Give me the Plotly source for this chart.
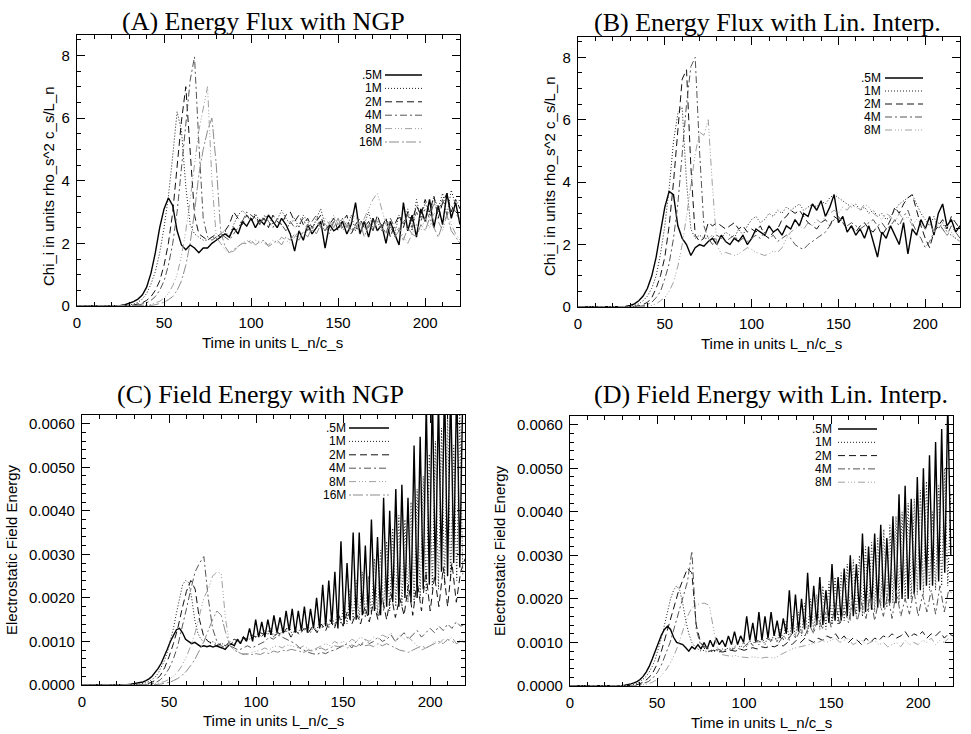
import numpy as np
import plotly.graph_objects as go

# ---------------- DATA ----------------
# Energy-flux panels: common time grid 0..220 step 2.5 (89 samples)
t_flux = np.arange(89) * 2.5
# Field-energy panels: coarse grid (same as flux) and fine grid 0..218.75 step 1.75 (126 samples)
t_coarse = np.arange(89) * 2.5
t_fine = np.arange(126) * 1.75

labels6 = [".5M", "1M", "2M", "4M", "8M", "16M"]
labels5 = [".5M", "1M", "2M", "4M", "8M"]

# (A) Energy flux, NGP
flux_ngp_05M = [0,0,0,0,0,0,0,0,0,0.01,
    0.02,0.04,0.08,0.14,0.22,0.35,0.6,1.05,1.7,2.5,
    3.1,3.45,3.2,2.4,1.95,1.8,1.95,1.85,1.7,1.85,
    1.85,2.0,2.1,2.2,2.3,2.2,2.5,2.3,2.7,2.55,
    2.8,2.5,2.75,2.6,2.9,2.7,2.5,2.8,2.6,2.3,
    1.75,2.4,2.1,2.6,2.3,2.5,2.7,1.85,2.6,2.4,
    2.5,2.7,2.3,2.6,3.3,2.3,2.7,2.2,2.8,2.4,
    2.6,2.0,2.7,2.3,1.95,3.3,2.4,2.9,2.2,3.1,
    2.7,3.4,2.5,3.2,2.6,3.6,2.8,3.3,2.6]
flux_ngp_1M = [0,0,0,0,0,0,0,0,0,0,
    0,0.01,0.03,0.06,0.12,0.22,0.4,0.7,1.1,1.7,
    2.5,3.5,4.8,6.2,5.6,3.8,2.6,2.3,2.2,2.1,
    2.1,2.2,2.15,2.3,2.4,2.2,2.6,2.9,3.05,2.9,
    2.8,2.95,2.7,2.8,2.9,2.6,2.75,3.05,2.8,2.6,
    2.8,2.5,2.9,2.7,2.4,2.8,3.1,2.6,2.5,2.7,
    2.6,2.8,2.5,2.9,2.4,2.7,2.6,3.0,2.5,2.7,
    2.4,2.8,2.5,2.3,2.9,2.6,3.1,2.4,3.4,2.8,
    3.3,2.9,3.5,3.1,3.6,2.9,3.7,3.2,3.4]
flux_ngp_2M = [0,0,0,0,0,0,0,0,0,0,
    0,0,0.01,0.03,0.06,0.1,0.18,0.3,0.5,0.8,
    1.3,2.0,3.0,4.4,5.9,7.0,5.0,2.9,2.3,2.2,
    2.1,2.2,2.3,2.2,2.4,2.6,3.0,2.8,2.6,2.9,
    2.7,2.9,2.6,2.8,2.5,2.9,2.7,2.6,2.9,3.0,
    2.7,2.9,2.6,2.8,2.5,2.7,2.9,2.4,2.6,2.8,
    2.4,2.7,2.9,2.3,2.6,2.8,2.5,2.7,2.4,2.9,
    2.5,2.8,2.2,2.6,2.9,2.5,3.0,2.7,3.2,2.9,
    3.4,3.0,3.5,2.8,3.3,3.6,3.0,3.4,3.1]
flux_ngp_4M = [0,0,0,0,0,0,0,0,0,0,
    0,0,0,0.01,0.03,0.06,0.1,0.18,0.3,0.5,
    0.8,1.3,2.0,3.0,4.3,5.8,7.2,7.95,5.2,2.8,
    2.2,2.1,2.2,2.3,2.2,2.1,2.3,2.5,2.7,3.0,
    2.9,2.8,2.6,2.9,2.7,2.5,2.8,2.6,2.4,2.7,
    2.5,2.6,2.8,2.4,2.7,2.9,2.5,2.6,2.3,2.7,
    2.8,2.5,2.7,2.4,2.6,2.3,2.7,2.5,2.8,2.4,
    2.6,2.3,2.8,2.5,2.4,2.7,2.9,2.5,3.0,2.7,
    3.1,2.8,3.3,3.0,3.4,2.9,3.2,3.0,2.7]
flux_ngp_8M = [0,0,0,0,0,0,0,0,0,0,
    0,0,0,0,0,0,0.02,0.05,0.1,0.15,
    0.25,0.4,0.65,1.0,1.6,2.4,3.4,4.6,5.6,6.3,
    7.0,4.0,2.2,2.0,1.8,1.7,1.75,1.9,2.0,2.1,
    2.0,2.1,2.05,2.0,1.95,2.1,2.0,2.2,2.1,2.0,
    2.2,2.4,2.3,2.6,2.5,2.7,2.5,2.8,2.6,2.9,
    2.6,2.8,2.5,2.7,2.9,2.5,2.8,3.1,3.4,3.6,
    3.1,2.6,2.4,2.3,2.5,2.2,2.0,2.3,2.6,2.4,
    2.8,2.5,3.0,2.7,2.4,2.9,2.6,2.3,2.1]
flux_ngp_16M = [0,0,0,0,0,0,0,0,0,0,
    0,0,0,0,0,0,0,0.02,0.04,0.08,
    0.12,0.2,0.3,0.5,0.8,1.3,2.0,3.0,4.2,5.0,
    5.6,6.0,4.5,2.4,1.9,1.7,1.8,1.9,2.0,2.0,
    2.1,1.95,2.05,2.1,1.9,2.0,2.1,1.95,2.2,2.1,
    2.3,2.1,2.4,2.2,2.5,2.3,2.6,2.4,2.7,2.5,
    2.8,2.4,2.6,2.3,2.5,2.7,2.2,2.6,2.4,2.8,
    2.5,2.3,2.6,2.2,2.4,2.1,2.5,2.3,2.2,2.6,
    2.4,2.8,2.5,2.2,2.6,2.9,2.4,2.2,2.0]

# (B) Energy flux, linear interpolation
flux_lin_05M = [0,0,0,0,0,0,0,0,0,0,
    0.01,0.02,0.05,0.1,0.2,0.35,0.6,1.0,1.6,2.4,
    3.2,3.7,3.6,2.6,2.2,2.0,1.65,1.9,2.0,1.95,
    2.1,2.2,2.0,2.3,2.1,2.0,2.2,2.1,2.3,2.0,
    2.2,2.5,2.4,2.3,2.6,2.4,2.5,2.3,2.6,2.5,
    2.8,2.6,3.0,2.9,3.3,3.1,3.4,2.9,3.2,3.6,
    2.7,2.9,2.4,2.6,2.3,2.5,2.2,2.6,2.1,1.6,
    2.4,2.2,2.6,2.3,2.0,2.7,1.7,2.5,2.3,2.8,
    2.5,2.9,2.3,3.0,3.3,2.6,2.8,2.4,2.6]
flux_lin_1M = [0,0,0,0,0,0,0,0,0,0,
    0,0.01,0.02,0.05,0.1,0.2,0.35,0.6,1.0,1.7,
    2.6,3.8,5.3,6.2,6.4,4.0,2.5,2.2,2.3,2.2,
    2.2,2.3,2.1,2.2,2.4,2.3,2.2,2.5,2.3,2.6,
    2.8,2.9,2.7,2.8,3.0,2.9,3.1,3.0,3.2,3.1,
    3.2,3.3,3.1,3.2,3.3,3.2,3.4,3.3,3.5,3.6,
    3.5,3.4,3.3,3.2,3.3,3.1,3.2,3.0,3.1,2.9,
    3.0,2.8,2.9,3.1,3.3,3.4,3.5,3.6,3.3,3.0,
    2.8,2.6,2.9,2.5,2.7,2.4,2.3,2.2,2.1]
flux_lin_2M = [0,0,0,0,0,0,0,0,0,0,
    0,0,0.01,0.02,0.04,0.08,0.15,0.3,0.6,1.0,
    1.6,2.6,4.0,5.8,7.3,7.6,4.5,2.3,2.1,2.2,
    2.7,2.6,2.7,2.6,2.5,2.6,2.7,2.5,2.6,2.4,
    2.5,2.4,2.6,2.3,2.2,2.4,2.5,2.8,2.9,3.1,
    3.0,3.1,2.9,2.7,2.6,2.5,2.7,2.8,2.6,2.9,
    2.8,2.7,2.5,2.6,2.4,2.6,2.7,2.5,2.4,2.6,
    2.3,2.5,2.8,3.2,3.0,3.3,3.5,3.6,3.1,2.6,
    2.2,1.9,2.4,2.6,2.8,2.5,2.9,2.7,2.5]
flux_lin_4M = [0,0,0,0,0,0,0,0,0,0,
    0,0,0,0.01,0.02,0.04,0.08,0.15,0.3,0.5,
    0.9,1.4,2.2,3.3,4.8,6.5,7.7,8.0,5.0,2.6,
    2.2,2.0,2.3,2.2,2.1,2.2,2.3,2.1,2.2,2.1,
    2.2,2.3,2.2,2.4,2.2,2.3,2.1,2.2,2.3,2.2,
    2.0,1.9,1.85,2.0,2.1,2.2,2.3,2.4,2.6,2.8,
    2.9,2.7,2.6,2.7,2.6,2.5,2.6,2.7,2.8,2.6,
    2.7,2.5,2.6,2.8,2.6,2.9,3.1,2.7,2.4,2.2,
    1.9,2.1,2.4,2.7,2.5,2.3,2.6,2.4,2.2]
flux_lin_8M = [0,0,0,0,0,0,0,0,0,0,
    0,0,0,0,0,0,0.02,0.05,0.1,0.2,
    0.3,0.5,0.8,1.3,2.0,2.9,3.9,4.9,5.6,5.5,
    6.0,3.8,2.0,1.7,1.75,1.7,1.65,1.7,1.8,1.9,
    1.85,1.75,1.7,1.65,1.7,1.8,1.75,1.9,2.2,2.4,
    2.5,2.6,2.5,2.7,2.6,2.8,2.7,2.9,3.0,3.1,
    3.0,3.2,3.1,3.3,3.2,3.1,3.3,3.2,3.0,2.9,
    2.8,3.0,2.9,2.7,3.0,2.8,2.9,2.6,2.8,2.7,
    2.5,2.7,2.4,2.6,2.5,2.3,2.4,2.2,2.1]

# (C) Field energy, NGP  (units of 1e-3)
field_ngp_05M_milli = [0,0,0,0,0,0,0,0,0,0,0,0,0,
    0.005,
    0.01,0.01,0.02,0.03,0.04,0.05,0.07,
    0.1,0.14,0.2,0.28,0.38,0.5,0.65,0.82,
    1.0,1.15,1.27,1.3,1.2,1.05,1.0,0.95,0.98,0.92,0.88,0.9,
    0.88,0.9,0.87,0.9,0.88,0.85,0.82,0.9,0.95,0.9,1.05,0.95,1.1,1.0,
    1.3,1.0,1.5,1.1,1.45,1.1,1.5,1.15,1.6,1.2,1.55,1.2,1.7,1.25,1.75,1.2,1.7,1.25,1.8,1.2,1.75,1.3,
    2.0,1.3,2.3,1.35,2.4,1.4,2.6,1.3,3.3,1.4,2.8,1.5,3.5,1.5,3.5,1.6,3.2,1.6,3.8,1.7,3.4,1.6,
    4.3,1.8,4.0,1.9,4.5,1.8,4.6,2.0,4.3,1.9,5.5,2.0,5.7,2.2,6.5,2.3,6.8,2.4,6.6,2.6,7.0,2.5,6.9,2.8,7.0,2.7,6.8]
field_ngp_1M_milli = [0,0,0,0,0,0,0,0,0,0,0,0,0,0,0,0,0,0,
    0.01,0.02,0.03,0.05,0.08,0.12,0.18,0.27,0.4,0.55,0.75,
    1.0,1.3,1.65,2.0,2.3,2.4,2.35,2.0,1.5,1.2,1.05,1.0,
    1.05,0.95,1.0,0.95,0.9,0.95,0.9,0.95,1.0,0.95,1.05,1.0,1.1,1.05,
    1.05,1.15,1.1,1.2,1.1,1.25,1.15,1.3,1.1,1.25,1.15,1.3,1.2,1.35,1.15,1.3,1.2,1.35,1.25,1.4,1.2,1.35,
    1.25,1.45,1.3,1.5,1.3,1.6,1.35,1.7,1.4,1.9,1.4,2.2,1.5,2.4,1.5,2.6,1.55,2.5,1.6,2.9,1.6,3.1,
    1.7,3.3,1.7,3.6,1.8,3.9,1.8,3.8,1.9,4.2,1.9,4.5,2.0,4.8,2.1,5.3,2.2,5.6,2.2,5.9,2.3,6.2,2.4,5.5,2.4,6.3,2.5]
field_ngp_2M_milli = [0,0,0,0,0,0,0,0,0,0,
    0,0,0,0,0.01,0.03,0.06,0.12,0.22,0.4,
    0.65,0.95,1.3,1.75,2.15,2.4,2.2,1.5,1.1,1.0,
    0.95,0.9,0.95,0.9,1.0,1.05,1.0,1.1,1.05,1.15,
    1.1,1.2,1.15,1.25,1.1,1.2,1.15,1.3,1.1,1.25,
    1.15,1.3,1.2,1.35,1.2,1.4,1.25,1.5,1.3,1.6,
    1.35,1.7,1.4,1.65,1.4,1.8,1.45,1.9,1.5,2.0,
    1.5,2.1,1.55,2.0,1.6,2.3,1.6,2.4,1.7,2.6,
    1.7,2.5,1.8,2.7,1.8,2.8,1.9,2.6,2.9]
field_ngp_4M_milli = [0,0,0,0,0,0,0,0,0,0,
    0,0,0,0,0,0.01,0.03,0.06,0.12,0.22,
    0.38,0.6,0.9,1.3,1.75,2.2,2.6,2.8,2.95,2.0,
    1.3,1.0,0.9,0.85,0.9,0.85,0.8,0.85,0.9,0.85,
    0.9,0.95,1.0,1.1,1.05,1.15,1.1,1.05,1.0,0.95,
    0.85,0.8,0.75,0.72,0.7,0.75,0.72,0.78,0.8,0.85,
    0.9,0.95,0.85,1.0,0.9,1.05,0.95,1.0,1.1,1.0,
    1.05,1.15,1.0,1.1,1.2,1.05,1.15,1.25,1.1,1.2,
    1.3,1.2,1.35,1.25,1.4,1.3,1.45,1.35,1.4]
field_ngp_8M_milli = [0,0,0,0,0,0,0,0,0,0,
    0,0,0,0,0,0,0.01,0.03,0.05,0.08,
    0.13,0.2,0.3,0.45,0.65,0.9,1.2,1.6,2.0,2.2,
    2.5,2.6,2.55,1.5,0.9,0.8,0.75,0.72,0.7,0.75,
    0.78,0.8,0.85,0.8,0.88,0.9,0.85,0.92,0.9,0.88,
    0.85,0.9,0.82,0.8,0.85,0.9,0.95,0.9,1.0,0.95,
    1.0,0.95,1.05,1.0,1.1,1.05,1.0,1.1,1.05,1.15,
    1.1,1.2,1.0,1.15,1.05,1.1,1.0,0.9,0.8,0.85,
    0.9,1.0,0.95,1.05,1.0,1.1,0.95,1.05,1.0]
field_ngp_16M_milli = [0,0,0,0,0,0,0,0,0,0,
    0,0,0,0,0,0,0,0.01,0.02,0.04,
    0.06,0.1,0.15,0.22,0.32,0.45,0.6,0.8,1.0,1.25,
    1.5,1.7,1.6,1.2,0.9,0.8,0.75,0.7,0.72,0.7,
    0.72,0.7,0.75,0.72,0.78,0.75,0.8,0.78,0.82,0.8,
    0.78,0.75,0.8,0.78,0.82,0.85,0.8,0.85,0.9,0.88,
    0.9,0.85,0.92,0.88,0.95,0.9,0.92,0.88,0.95,0.9,
    0.95,0.9,0.85,0.8,0.78,0.75,0.8,0.85,0.9,0.85,
    0.9,0.95,1.0,0.95,1.05,1.0,0.95,1.0,0.98]

# (D) Field energy, linear interpolation (units of 1e-3)
field_lin_05M_milli = [0,0,0,0,0,0,0,0,0,0,0,0,0,0,0,0,0,
    0.01,0.02,0.03,0.05,0.07,0.1,0.15,0.22,0.32,0.45,0.62,0.82,
    1.0,1.17,1.3,1.37,1.3,1.12,1.0,0.97,0.95,0.88,0.8,0.9,
    0.85,0.95,0.85,1.0,0.85,1.05,0.9,1.1,0.95,1.05,0.9,1.15,0.95,1.25,
    0.95,1.15,1.0,1.6,1.05,1.45,1.0,1.7,1.05,1.6,1.1,1.7,1.15,1.5,1.1,1.55,1.2,2.2,1.2,2.1,1.25,2.0,
    1.3,2.6,1.35,2.3,1.4,2.5,1.4,2.2,1.45,2.8,1.5,2.5,1.5,2.7,1.6,3.0,1.6,2.8,1.7,3.5,1.7,3.2,
    1.75,3.5,1.8,3.7,1.8,3.4,1.9,3.9,1.9,4.4,2.0,4.6,2.0,4.3,2.1,4.8,2.2,5.0,2.3,5.3,2.3,5.6,2.4,5.9,2.6,6.5,3.0]
field_lin_1M_milli = [0,0,0,0,0,0,0,0,0,0,0,0,0,0,0,0,0,0,0,
    0.01,0.02,0.04,0.06,0.1,0.15,0.22,0.32,0.45,0.62,
    0.85,1.1,1.4,1.7,2.0,2.2,2.3,2.2,1.9,1.5,1.2,1.0,
    0.9,0.85,0.8,0.82,0.78,0.8,0.78,0.82,0.8,0.85,0.82,0.88,0.85,0.9,
    0.95,0.88,1.0,0.9,1.05,0.92,1.1,0.95,1.1,0.95,1.15,1.0,1.2,1.0,1.3,1.05,1.5,1.05,1.6,1.1,1.7,1.15,
    1.9,1.2,2.0,1.25,2.1,1.3,2.3,1.3,2.4,1.4,2.5,1.4,2.6,1.5,2.8,1.5,2.9,1.6,3.0,1.6,3.2,1.7,
    3.3,1.7,3.4,1.8,3.6,1.8,3.7,1.9,3.9,1.9,4.0,2.0,4.2,2.0,4.3,2.1,4.5,2.1,4.7,2.2,4.0,2.2,4.6,2.3,5.0,2.3,4.4]
field_lin_2M_milli = [0,0,0,0,0,0,0,0,0,0,
    0,0,0,0,0.01,0.02,0.05,0.1,0.18,0.3,
    0.5,0.8,1.15,1.5,1.85,2.2,2.45,2.7,2.6,1.4,
    1.0,0.85,0.8,0.82,0.8,0.78,0.8,0.82,0.8,0.85,
    0.82,0.85,0.88,0.85,0.9,0.88,0.92,0.9,0.95,0.92,
    1.0,0.95,1.05,1.0,1.1,1.05,1.0,1.1,1.05,1.15,
    1.1,1.2,1.05,1.15,1.0,1.1,1.05,0.95,1.1,1.0,
    1.1,1.05,1.15,1.1,1.2,1.1,1.15,1.25,1.1,1.2,
    1.15,1.25,1.1,1.2,1.15,1.25,1.1,1.2,1.15]
field_lin_4M_milli = [0,0,0,0,0,0,0,0,0,0,
    0,0,0,0,0,0.01,0.03,0.06,0.1,0.18,
    0.3,0.48,0.72,1.0,1.35,1.7,2.05,2.4,3.1,1.3,
    0.95,0.9,0.85,0.8,0.85,0.8,0.85,0.82,0.88,0.85,
    0.9,1.0,0.95,1.05,1.0,1.1,1.05,1.1,1.0,1.15,
    1.05,1.2,1.1,1.3,1.15,1.4,1.2,1.6,1.3,1.8,
    1.35,1.9,1.4,1.8,1.45,2.0,1.5,1.9,1.55,2.1,
    1.5,2.0,1.6,2.1,1.55,2.2,1.6,2.0,1.65,2.2,
    1.6,2.1,1.7,2.2,1.65,2.3,1.7,2.2,2.1]
field_lin_8M_milli = [0,0,0,0,0,0,0,0,0,0,
    0,0,0,0,0,0,0.01,0.03,0.05,0.09,
    0.15,0.24,0.36,0.52,0.72,0.98,1.3,1.6,1.8,1.85,
    1.9,1.9,1.85,1.3,0.8,0.72,0.7,0.68,0.7,0.67,
    0.66,0.65,0.67,0.65,0.64,0.66,0.65,0.64,0.7,0.75,
    0.8,0.85,0.88,0.9,0.92,0.95,0.98,1.0,1.05,1.0,
    1.05,1.1,1.0,1.05,1.1,0.95,1.0,1.05,0.95,1.0,
    1.05,0.95,1.0,0.9,0.95,1.0,0.9,1.05,0.95,1.0,
    0.95,1.05,1.0,1.1,0.95,1.05,1.0,1.1,1.05]

# ---------------- STYLE ----------------
W, H = 971, 734
def px(x): return x / W
def py(y): return 1 - y / H

styles = {
    ".5M": dict(color="black", width=1.4, dash="solid"),
    "1M": dict(color="#202020", width=1, dash="1px,2px"),
    "2M": dict(color="#111111", width=1, dash="7px,4px"),
    "4M": dict(color="#555555", width=1, dash="7px,3px,2px,3px"),
    "8M": dict(color="#a0a0a0", width=1, dash="7px,3px,1px,2px,1px,2px,1px,3px"),
    "16M": dict(color="#8c8c8c", width=1, dash="2px,2px,10px,3px"),
}

panels = [
    dict(key="A", title="(A) Energy Flux with NGP", box=(77, 460, 35, 306), tcx=263, tcy=21,
         ytitle="Chi_i in units rho_s^2 c_s/L_n", ytx=48, yty=186, xtx=272, xty=342,
         yrange=[0, 8.65], dtick=2, mdtick=0.5, fmt=None,
         series=[(labels6[i], t_flux, v) for i, v in enumerate(
             [flux_ngp_05M, flux_ngp_1M, flux_ngp_2M, flux_ngp_4M, flux_ngp_8M, flux_ngp_16M])],
         leg=(383, 385, 422, 75, 13.4)),
    dict(key="B", title="(B) Energy Flux with Lin. Interp.", box=(578, 960, 37, 307), tcx=767, tcy=22,
         ytitle="Chi_i in units rho_s^2 c_s/L_n", ytx=549, yty=176, xtx=771, xty=343,
         yrange=[0, 8.65], dtick=2, mdtick=0.5, fmt=None,
         series=[(labels5[i], t_flux, v) for i, v in enumerate(
             [flux_lin_05M, flux_lin_1M, flux_lin_2M, flux_lin_4M, flux_lin_8M])],
         leg=(882, 885, 923, 78, 13.0)),
    dict(key="C", title="(C) Field Energy with NGP", box=(82, 465, 415, 685), tcx=260, tcy=394,
         ytitle="Electrostatic Field Energy", ytx=11, yty=550, xtx=273, xty=720,
         yrange=[0, 0.0062], dtick=0.001, mdtick=0.0002, fmt=".4f",
         series=[(".5M", t_fine, field_ngp_05M_milli), ("1M", t_fine, field_ngp_1M_milli),
                 ("2M", t_coarse, field_ngp_2M_milli), ("4M", t_coarse, field_ngp_4M_milli),
                 ("8M", t_coarse, field_ngp_8M_milli), ("16M", t_coarse, field_ngp_16M_milli)],
         milli=True, leg=(347, 349, 389, 428, 13.4)),
    dict(key="D", title="(D) Field Energy with Lin. Interp.", box=(570, 953, 416, 686), tcx=771, tcy=394,
         ytitle="Electrostatic Field Energy", ytx=499, yty=551, xtx=761, xty=722,
         yrange=[0, 0.0062], dtick=0.001, mdtick=0.0002, fmt=".4f",
         series=[(".5M", t_fine, field_lin_05M_milli), ("1M", t_fine, field_lin_1M_milli),
                 ("2M", t_coarse, field_lin_2M_milli), ("4M", t_coarse, field_lin_4M_milli),
                 ("8M", t_coarse, field_lin_8M_milli)],
         milli=True, leg=(833, 838, 877, 429, 13.3)),
]

SANS = "Liberation Sans, Arial, Helvetica, sans-serif"
SERIF = "Liberation Serif, Times New Roman, serif"

fig = go.Figure()
annotations, shapes = [], []
layout_axes = {}

for i, p in enumerate(panels):
    n = "" if i == 0 else str(i + 1)
    xa, ya = "x" + n, "y" + n
    x0, x1, y0, y1 = p["box"]
    for name, t, vals in p["series"]:
        v = np.array(vals, dtype=float)
        assert len(v) == len(t), (p["key"], name, len(v), len(t))
        if p.get("milli"):
            v = v * 1e-3
        st = styles[name]
        fig.add_trace(go.Scatter(x=t, y=v, mode="lines", name=name, showlegend=False,
                                 xaxis=xa, yaxis=ya, line=dict(color=st["color"], width=st["width"], dash=st["dash"])))
    common = dict(showline=True, linecolor="black", linewidth=1.3, mirror="allticks",
                  ticks="inside", ticklen=8, tickwidth=1, tickcolor="black",
                  showgrid=False, zeroline=False, automargin=False,
                  tickfont=dict(family=SANS, size=15, color="black"))
    layout_axes["xaxis" + n] = dict(common, domain=[px(x0), px(x1)], anchor=ya, range=[0, 220],
                                    tick0=0, dtick=50, ticklabelstandoff=3,
                                    minor=dict(ticks="inside", ticklen=4, tickcolor="black", dtick=10, showgrid=False))
    yax = dict(common, domain=[py(y1), py(y0)], anchor=xa, range=p["yrange"], tick0=0, dtick=p["dtick"],
               ticklabelstandoff=3,
               minor=dict(ticks="inside", ticklen=4, tickcolor="black", dtick=p["mdtick"], showgrid=False))
    if p["fmt"]:
        yax["tickformat"] = p["fmt"]
    layout_axes["yaxis" + n] = yax

    annotations.append(dict(text=p["title"], x=px(p["tcx"]), y=py(p["tcy"]), xref="paper", yref="paper",
                            showarrow=False, xanchor="center", yanchor="middle",
                            font=dict(family=SERIF, size=26, color="black")))
    annotations.append(dict(text=p["ytitle"], x=px(p["ytx"]), y=py(p["yty"]), xref="paper", yref="paper",
                            showarrow=False, xanchor="center", yanchor="middle", textangle=-90,
                            font=dict(family=SANS, size=15, color="black")))
    annotations.append(dict(text="Time in units L_n/c_s", x=px(p["xtx"]), y=py(p["xty"]), xref="paper", yref="paper",
                            showarrow=False, xanchor="center", yanchor="middle", borderpad=0,
                            font=dict(family=SANS, size=15, color="black")))
    tx, lx0, lx1, ly, dy = p["leg"]
    for j, (name, _, _) in enumerate(p["series"]):
        yy = ly + j * dy
        st = styles[name]
        annotations.append(dict(text=name, x=px(tx), y=py(yy), xref="paper", yref="paper", showarrow=False,
                                xanchor="right", yanchor="middle", borderpad=0,
                                font=dict(family=SANS, size=12, color="black")))
        shapes.append(dict(type="line", xref="paper", yref="paper", x0=px(lx0), x1=px(lx1), y0=py(yy), y1=py(yy),
                           line=dict(color=st["color"], width=st["width"], dash=st["dash"])))

fig.update_layout(width=W, height=H, margin=dict(l=0, r=0, t=0, b=0),
                  paper_bgcolor="white", plot_bgcolor="white",
                  annotations=annotations, shapes=shapes, showlegend=False, **layout_axes)

# remove the browser's default 8px page margin so the figure fills the window exactly
fig.write_html("out.html", config={"displayModeBar": False},
               post_script="document.body.style.margin='0';document.body.style.overflow='hidden';")
